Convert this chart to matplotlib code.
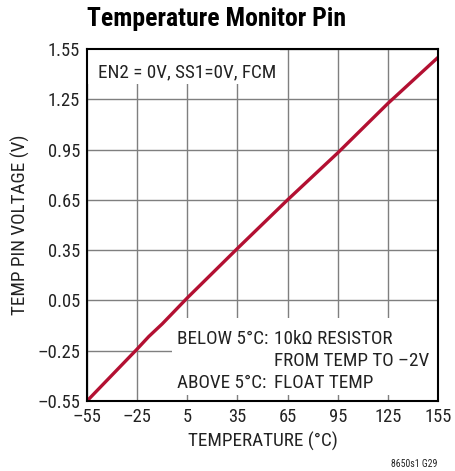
import numpy as np
import matplotlib
matplotlib.use("Agg")
import matplotlib.pyplot as plt
from matplotlib.patches import Rectangle

# condensed sans, with fallbacks
plt.rcParams["font.family"] = ["Roboto Condensed", "Archivo Narrow", "DejaVu Sans"]

# data
temp = [-55, -40, -25, -18, -10, 5, 35, 65, 95, 125, 155]
volt = [-0.55, -0.395, -0.24, -0.165, -0.09, 0.065, 0.36, 0.65, 0.93, 1.225, 1.50]

xticks = [-55, -25, 5, 35, 65, 95, 125, 155]
yticks = [-0.55, -0.25, 0.05, 0.35, 0.65, 0.95, 1.25, 1.55]
xlabels = ["\u201355", "\u201325", "5", "35", "65", "95", "125", "155"]
ylabels = ["\u20130.55", "\u20130.25", "0.05", "0.35", "0.65", "0.95", "1.25", "1.55"]

fig = plt.figure(figsize=(4.56, 4.71), dpi=100)
ax = fig.add_axes([87/456, 1-401/471, 351/456, 352/471])

ax.plot(temp, volt, color="#B31032", lw=2.4, zorder=5, solid_capstyle="butt")

ax.set_xlim(-55, 155)
ax.set_ylim(-0.55, 1.55)
ax.set_xticks(xticks)
ax.set_xticklabels(xlabels)
ax.set_yticks(yticks)
ax.set_yticklabels(ylabels)
ax.tick_params(length=0, labelsize=13.3, pad=5, colors="#222222")
ax.grid(True, color="#7f7f7f", lw=1.0)
ax.set_axisbelow(True)
for s in ax.spines.values():
    s.set_linewidth(1.5)
    s.set_color("black")
    s.set_zorder(6)

ax.set_xlabel("TEMPERATURE (\u00b0C)", fontsize=13.8, color="#222222", labelpad=4)
ax.set_ylabel("TEMP PIN VOLTAGE (V)", fontsize=13.8, color="#222222", labelpad=5)

# white boxes behind the notes
ax.add_patch(Rectangle((0, (401-84)/352), (280-87)/351, 1, transform=ax.transAxes,
                       facecolor="white", edgecolor="none", zorder=2))
ax.add_patch(Rectangle(((172-87)/351, (401-395)/352), 1, (395-318)/352, transform=ax.transAxes,
                       facecolor="white", edgecolor="none", zorder=2))

def fx(px):
    return (px - 87) / 351

def fy(py):
    return (401 - py) / 352

notes = [
    (98, 72, "EN2 = 0V, SS1=0V, FCM"),
    (177, 339, "BELOW 5\u00b0C:"),
    (274, 339, "10k\u03a9 RESISTOR"),
    (274, 361, "FROM TEMP TO \u20132V"),
    (177, 383, "ABOVE 5\u00b0C:"),
    (274, 383, "FLOAT TEMP"),
]
for px, py, s in notes:
    ax.text(fx(px), fy(py), s, transform=ax.transAxes, fontsize=13.8,
            va="center", ha="left", color="#222222", zorder=4)

fig.text(87/456, 1-19/471, "Temperature Monitor Pin", fontsize=18.5, fontweight="bold",
         ha="left", va="center")
fig.text(437/456, 1-464/471, "8650s1 G29", fontsize=7, ha="right", va="center", color="#222222")

fig.savefig("out.png", dpi=100)
